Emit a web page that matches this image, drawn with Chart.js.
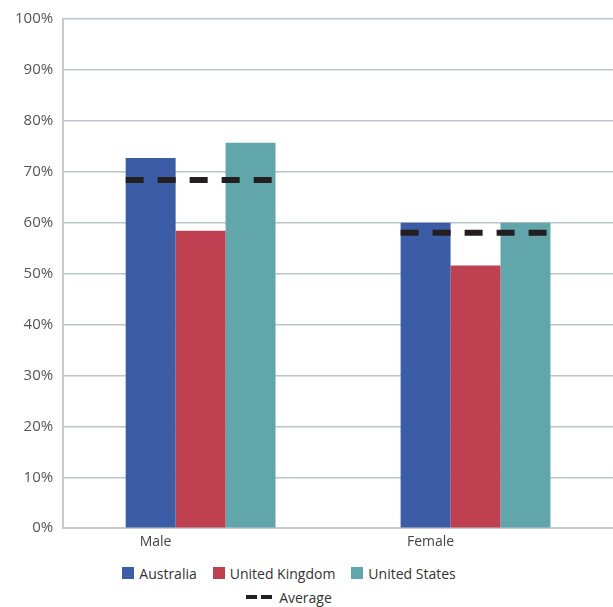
<!DOCTYPE html>
<html lang="en">

<head>
    <meta charset="UTF-8">
    <title>Male / Female by country</title>
    <script src="https://cdnjs.cloudflare.com/ajax/libs/Chart.js/4.4.1/chart.umd.min.js"></script>
    <style>
        body { margin: 0; background: #fff; font-family: "Open Sans", sans-serif; }
        #wrap { position: relative; width: 613px; height: 607px; }
        #canvas-container { position: absolute; left: 0; top: 0; width: 613px; height: 560px; }
        #legend { position: absolute; left: 0; top: 561px; width: 578px; color: #333; font-size: 14px; }
        .row { display: flex; justify-content: center; align-items: center; height: 24px; }
        .item { display: flex; align-items: center; margin: 0 8px; }
        .box { width: 12px; height: 12px; margin-right: 5px; }
        .dash { width: 11px; height: 4px; background: #231f20; margin-right: 4px; }
    </style>
</head>

<body>
    <div id="wrap">
        <div id="canvas-container">
            <canvas id="myChart"></canvas>
        </div>
        <div id="legend"></div>
    </div>
    <script>
        const categories = ['Male', 'Female']
        const australia = [72.7, 60.0]
        const unitedKingdom = [58.4, 51.6]
        const unitedStates = [75.7, 60.0]
        const average = [68.4, 58.0]

        const series = [
            { label: 'Australia', color: '#3c5ca6', values: australia },
            { label: 'United Kingdom', color: '#bf4050', values: unitedKingdom },
            { label: 'United States', color: '#60a6ab', values: unitedStates }
        ]

        // dashed average line across each group of bars
        const averageLine = {
            id: 'averageLine',
            afterDatasetsDraw(chart) {
                const ctx = chart.ctx
                const yScale = chart.scales.y
                const first = chart.getDatasetMeta(0).data
                const last = chart.getDatasetMeta(series.length - 1).data
                ctx.save()
                ctx.strokeStyle = '#231f20'
                ctx.lineWidth = 6
                ctx.setLineDash([18, 14])
                average.forEach((v, i) => {
                    const x0 = first[i].x - first[i].width / 2
                    const x1 = last[i].x + last[i].width / 2
                    const py = yScale.getPixelForValue(v)
                    ctx.beginPath()
                    ctx.moveTo(x0, py)
                    ctx.lineTo(x1, py)
                    ctx.stroke()
                })
                ctx.restore()
            }
        }

        const data = {
            labels: categories,
            datasets: series.map(s => ({
                label: s.label,
                data: s.values,
                backgroundColor: s.color,
                borderWidth: 0,
                categoryPercentage: 0.545,
                barPercentage: 1
            }))
        }

        const tickFont = { family: '"Open Sans", sans-serif', size: 15 }

        const config = {
            type: 'bar',
            data,
            options: {
                responsive: true,
                maintainAspectRatio: false,
                animation: false,
                layout: { padding: { top: 9, left: 5, right: 0, bottom: 13 } },
                plugins: {
                    legend: { display: false },
                    tooltip: { enabled: false }
                },
                scales: {
                    x: {
                        grid: { display: false },
                        border: { color: '#c3cbd0', width: 2 },
                        ticks: { color: '#444', font: { family: '"Open Sans", sans-serif', size: 14 }, padding: -3, labelOffset: -45 }
                    },
                    y: {
                        min: 0,
                        max: 100,
                        ticks: {
                            stepSize: 10,
                            color: '#555',
                            font: tickFont,
                            padding: 10,
                            callback: v => v + '%'
                        },
                        grid: { color: '#bcc5cb', lineWidth: 1.5, drawTicks: false },
                        border: { color: '#c3cbd0', width: 2 }
                    }
                }
            },
            plugins: [averageLine]
        }

        var myChart = new Chart(document.getElementById('myChart'), config)

        // legend: countries on the first row, average on the second
        const legend = document.getElementById('legend')
        const row1 = document.createElement('div')
        row1.className = 'row'
        series.forEach(s => {
            const item = document.createElement('div')
            item.className = 'item'
            item.innerHTML = '<span class="box" style="background:' + s.color + '"></span>' + s.label
            row1.appendChild(item)
        })
        const row2 = document.createElement('div')
        row2.className = 'row'
        row2.innerHTML = '<div class="item"><span class="dash"></span><span class="dash" style="margin-right:7px"></span>Average</div>'
        legend.appendChild(row1)
        legend.appendChild(row2)
    </script>
</body>

</html>
